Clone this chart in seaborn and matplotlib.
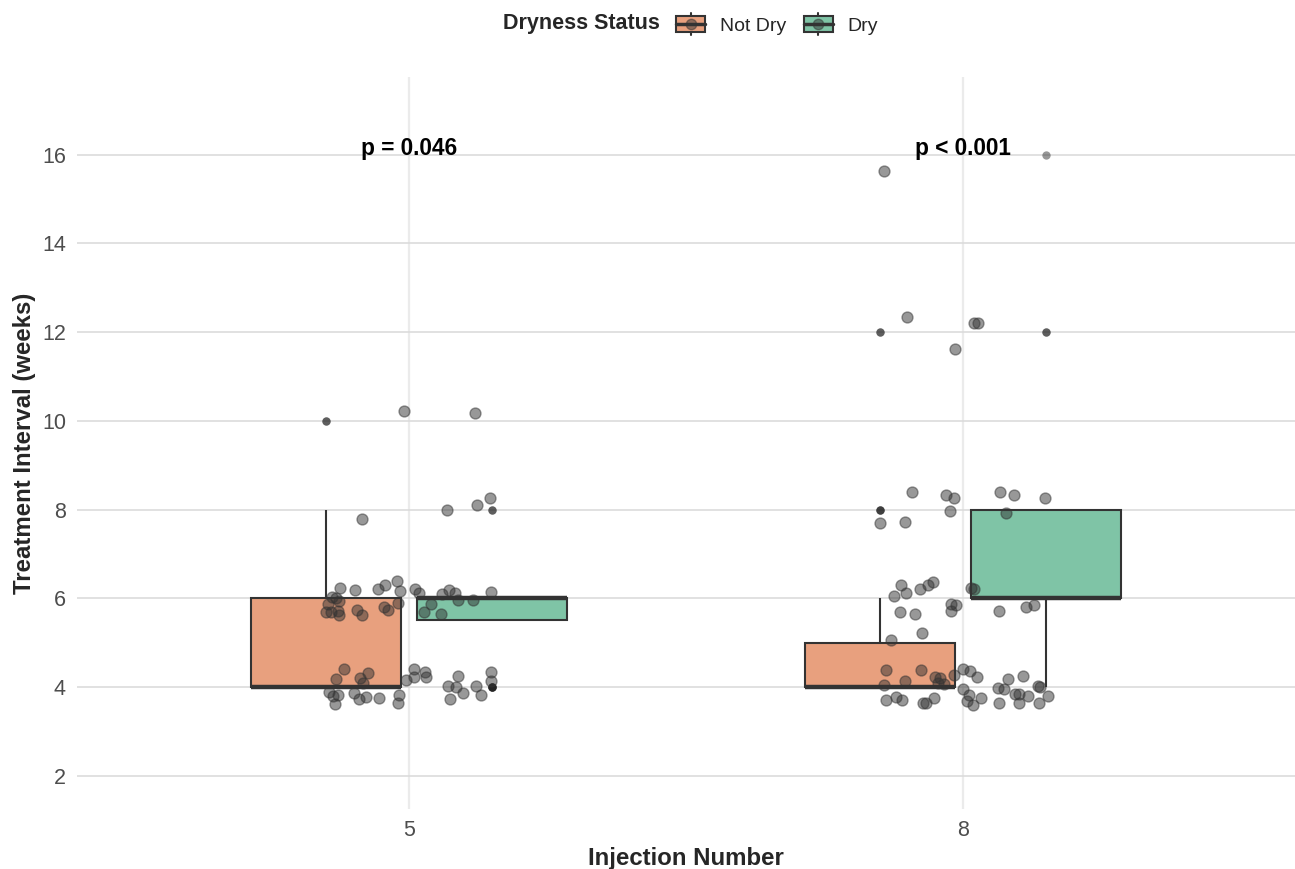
import numpy as np
import pandas as pd
import seaborn as sns
import matplotlib.pyplot as plt
from matplotlib.patches import Rectangle
from matplotlib.lines import Line2D
from matplotlib.legend_handler import HandlerBase

injections = [5, 8]
statuses = ["Not Dry", "Dry"]
box_colors = ["#E8A07E", "#7FC4A6"]
p_labels = ["p = 0.046", "p < 0.001"]

# treatment interval (weeks) values and how often each occurs per group
interval_levels = [4, 5, 6, 8, 10, 12, 16]
counts_5_not_dry = [24, 0, 17, 2, 2, 0, 0]
counts_5_dry = [5, 0, 13, 2, 0, 0, 0]
counts_8_not_dry = [30, 2, 4, 3, 0, 2, 0]
counts_8_dry = [6, 0, 12, 7, 0, 2, 1]

# jittered points as they appear (x offset from category centre, y)
pts5_dx = [-0.010, 0.118,
           -0.085, 0.069, 0.123, 0.146,
           -0.125, -0.097, -0.056, -0.043, -0.022, -0.016, 0.011, 0.017, 0.060,
           0.072, 0.083, 0.147, 0.088, 0.116, 0.039, 0.026, 0.058,
           -0.133, -0.139, -0.127, -0.146, -0.150, -0.141, -0.126, -0.129,
           -0.094, -0.086, -0.046, -0.038, -0.021,
           -0.117, -0.133, -0.089, -0.074, -0.084, -0.144, -0.137, -0.129,
           -0.134, -0.100, -0.090, -0.078, -0.054, -0.021, -0.019, -0.005,
           0.009, 0.009, 0.028, 0.031, 0.071, 0.088, 0.084, 0.097, 0.074,
           0.121, 0.129, 0.148, 0.148]
pts5_y = [10.22, 10.17,
          7.79, 7.98, 8.10, 8.25,
          6.24, 6.19, 6.22, 6.29, 6.39, 6.17, 6.22, 6.11, 6.09,
          6.18, 6.13, 6.14, 5.95, 5.95, 5.86, 5.69, 5.64,
          6.00, 6.03, 5.94, 5.88, 5.68, 5.68, 5.63, 5.71,
          5.73, 5.63, 5.81, 5.73, 5.89,
          4.40, 4.17, 4.20, 4.31, 4.08, 3.89, 3.80, 3.83,
          3.61, 3.86, 3.72, 3.77, 3.76, 3.65, 3.83, 4.15,
          4.40, 4.23, 4.34, 4.23, 4.02, 4.24, 4.00, 3.87, 3.72,
          4.02, 3.83, 4.33, 4.14]
pts8_dx = [-0.142, -0.101, -0.015, 0.021, 0.028,
           -0.091, -0.030, -0.016, -0.024, -0.150, -0.105, 0.068, 0.092,
           0.149, 0.078,
           -0.112, -0.125, -0.102, -0.078, -0.063, -0.054, 0.015, 0.020,
           -0.021, -0.012, -0.022, -0.114, -0.086, 0.066, 0.114, 0.129,
           -0.073, -0.129,
           -0.138, -0.075, -0.105, -0.142, -0.050, -0.042, -0.045, -0.034,
           -0.016, 0.000, 0.013, 0.026, 0.000, 0.012, 0.008, 0.018, 0.033,
           -0.139, -0.121, -0.109, -0.072, -0.067, -0.052, 0.081, 0.109,
           0.063, 0.075, 0.095, 0.101, 0.118, 0.066, 0.102, 0.138, 0.154,
           0.135, 0.140]
pts8_y = [15.63, 12.33, 11.62, 12.21, 12.21,
          8.39, 8.33, 8.26, 7.96, 7.69, 7.71, 8.39, 8.32,
          8.26, 7.92,
          6.29, 6.05, 6.11, 6.20, 6.30, 6.37, 6.23, 6.20,
          5.88, 5.84, 5.71, 5.70, 5.64, 5.71, 5.81, 5.85,
          5.22, 5.05,
          4.39, 4.39, 4.14, 4.04, 4.23, 4.20, 4.09, 4.07,
          4.26, 4.41, 4.35, 4.22, 3.96, 3.83, 3.69, 3.59, 3.75,
          3.71, 3.77, 3.70, 3.64, 3.64, 3.76, 4.17, 4.24,
          3.98, 3.95, 3.85, 3.85, 3.79, 3.65, 3.65, 3.64, 3.79,
          4.03, 4.00]

groups = {(5, "Not Dry"): counts_5_not_dry, (5, "Dry"): counts_5_dry,
          (8, "Not Dry"): counts_8_not_dry, (8, "Dry"): counts_8_dry}
rows = []
for (inj, st), cnt in groups.items():
    for v in np.repeat(interval_levels, cnt):
        rows.append({"injection": inj, "status": st, "interval": v})
df = pd.DataFrame(rows)

pts_x = [0 + d for d in pts5_dx] + [1 + d for d in pts8_dx]
pts_y = pts5_y + pts8_y

sns.set_theme(style="white")
plt.rcParams["font.family"] = ["Liberation Sans", "DejaVu Sans"]

fig = plt.figure(figsize=(12.95, 8.69), dpi=100)
ax = fig.add_axes([77 / 1295, 1 - 809 / 869, 1 - 77 / 1295, (809 - 77) / 869])

sns.boxplot(data=df, x="injection", y="interval", hue="status", order=injections,
            hue_order=statuses, palette=box_colors, saturation=1, width=0.6, gap=0.1,
            linewidth=1.5, linecolor="#333333", showcaps=False, fliersize=6,
            flierprops=dict(marker="o", markerfacecolor="#1A1A1A", markeredgecolor="none", alpha=0.45),
            medianprops=dict(linewidth=3.2, color="#333333"), legend=False, ax=ax, zorder=2)

sns.scatterplot(x=pts_x, y=pts_y, ax=ax, s=62, color="#333333", edgecolor="#333333",
                linewidth=1.0, alpha=0.5, zorder=3)

for i, lab in enumerate(p_labels):
    ax.text(i, 16.0, lab, ha="center", va="baseline", fontsize=16.3, fontweight="bold", color="black")

ax.set_xlim(-0.6, 1.6)
ax.set_ylim(1.25, 17.75)
ax.set_yticks([2, 4, 6, 8, 10, 12, 14, 16])
ax.set_xticks([0, 1])
ax.set_xticklabels([str(i) for i in injections])
ax.grid(axis="y", color="#D9D9D9", linewidth=1.1, zorder=0)
ax.grid(axis="x", color="#EBEBEB", linewidth=1.6, zorder=0)
ax.set_axisbelow(True)
for s in ax.spines.values():
    s.set_visible(False)
ax.tick_params(axis="both", length=0, labelsize=15.5, labelcolor="#4D4D4D", pad=8)
ax.set_xlabel("Injection Number", fontsize=17.3, fontweight="bold", labelpad=4)
ax.set_ylabel("Treatment Interval (weeks)", fontsize=17.3, fontweight="bold", labelpad=4)


class BoxKey(HandlerBase):
    def create_artists(self, legend, orig, xd, yd, w, h, fs, trans):
        fc = orig.get_facecolor()
        x0, y0 = -xd, -yd
        cx, cy = x0 + w / 2, y0 + h / 2
        whisk = Line2D([cx, cx], [y0, y0 + h], color="#333333", lw=1.5, transform=trans)
        box = Rectangle((x0, y0 + 0.14 * h), w, 0.72 * h, facecolor=fc, edgecolor="#333333",
                        lw=1.5, transform=trans)
        med = Line2D([x0, x0 + w], [cy, cy], color="#333333", lw=2.5, transform=trans)
        dot = Line2D([cx], [cy], marker="o", markersize=7.5, color="#333333", alpha=0.5,
                     linestyle="none", transform=trans)
        return [whisk, box, med, dot]


handles = [Rectangle((0, 0), 1, 1, facecolor=c) for c in box_colors]
fig.text(660 / 1295, 1 - 24 / 869, "Dryness Status", ha="right", va="center",
         fontsize=15.5, fontweight="bold")
fig.legend(handles, statuses, handler_map={Rectangle: BoxKey()}, loc="center left",
           bbox_to_anchor=(676 / 1295, 1 - 24 / 869), ncol=2, frameon=False, fontsize=14,
           handlelength=1.5, handleheight=1.3, handletextpad=0.77, columnspacing=0.88,
           borderpad=0, borderaxespad=0)

fig.savefig("out.png", dpi=100)
